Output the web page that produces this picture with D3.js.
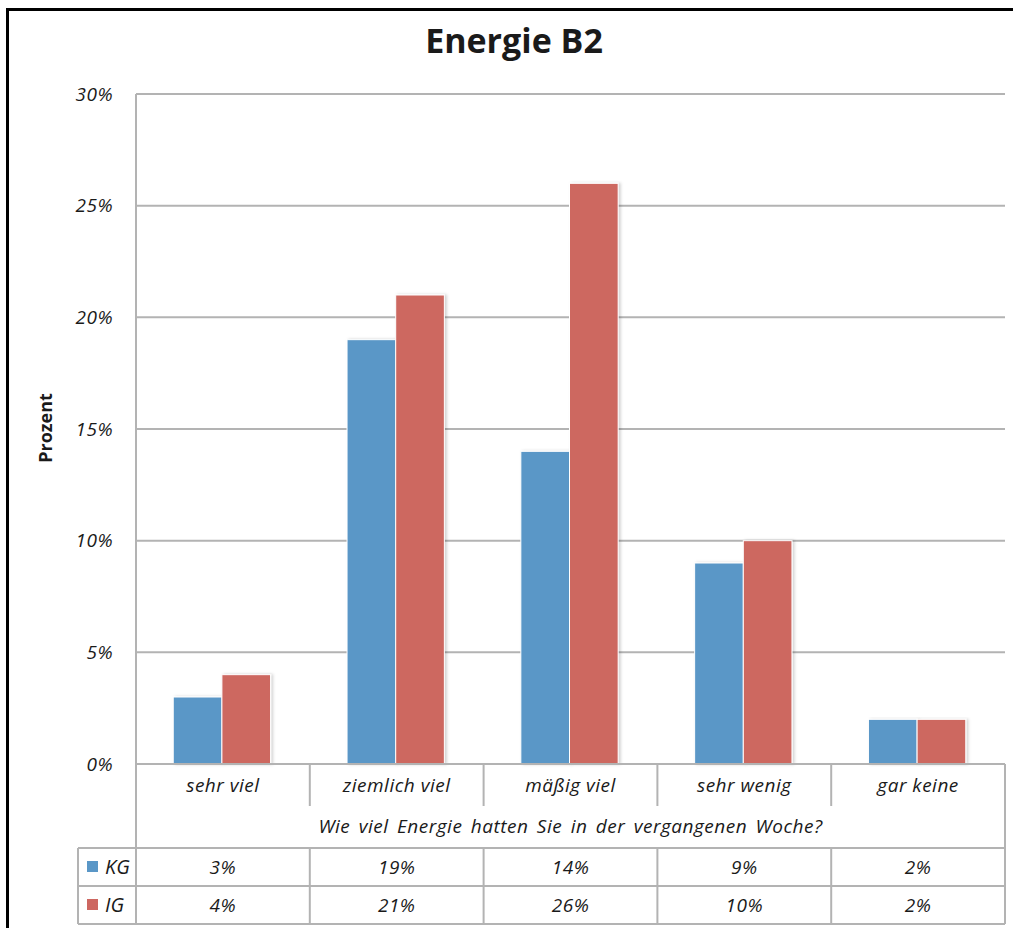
<!DOCTYPE html>
<html>
<head>
<meta charset="utf-8">
<script src="https://cdn.jsdelivr.net/npm/d3@7"></script>
<style>
  html, body { margin: 0; padding: 0; background: #fff; }
  svg { display: block; }
  text { font-family: "Open Sans", "Noto Sans", sans-serif; fill: #1a1a1a; }
</style>
</head>
<body>
<svg id="chart" width="1013" height="928"></svg>
<script>
// Answers to "Wie viel Energie hatten Sie in der vergangenen Woche?"
const categories = ["sehr viel", "ziemlich viel", "mäßig viel", "sehr wenig", "gar keine"];
const seriesNames = ["KG", "IG"];
const kgValues = [3, 19, 14, 9, 2];
const igValues = [4, 21, 26, 10, 2];
const yTicks = [0, 5, 10, 15, 20, 25, 30];
const seriesColors = ["#5a97c7", "#cd6761"];

const svg = d3.select("#chart");

// Outer frame
svg.append("rect")
  .attr("x", 7.5).attr("y", 9.5)
  .attr("width", 1020).attr("height", 940)
  .attr("fill", "none").attr("stroke", "#000").attr("stroke-width", 3);

// Title
svg.append("text")
  .attr("x", 514).attr("y", 53)
  .attr("text-anchor", "middle")
  .style("font-size", "34px").style("font-weight", 700)
  .text("Energie B2");

const plot = { left: 136, right: 1005, top: 94, bottom: 764 };
const table = { left: 78, catBottom: 806, rowTop: 848, rowMid: 886, rowBottom: 924 };

const y = d3.scaleLinear().domain([0, 30]).range([plot.bottom, plot.top]);
const x0 = d3.scaleBand().domain(categories).range([plot.left, plot.right]).padding(0);
const groupW = x0.bandwidth() * 0.56;
const x1 = d3.scaleBand().domain(seriesNames).range([0, groupW]).padding(0);

const gridColor = "#b3b3b3";
const labelSize = "19px";
const labelSpacing = "0.5px";

// Horizontal gridlines
svg.append("g").selectAll("line").data(yTicks).join("line")
  .attr("x1", plot.left).attr("x2", plot.right)
  .attr("y1", d => y(d)).attr("y2", d => y(d))
  .attr("stroke", gridColor).attr("stroke-width", 2);

// Y axis tick labels
const yAxis = d3.axisLeft(y).tickValues(yTicks).tickSize(0).tickPadding(0)
  .tickFormat(d => d + "%");
const yg = svg.append("g").attr("transform", `translate(${plot.left - 23},0)`).call(yAxis);
yg.select(".domain").remove();
yg.selectAll("text")
  .style("font-family", "'Open Sans', sans-serif")
  .style("font-size", labelSize).style("font-style", "italic")
  .style("letter-spacing", labelSpacing)
  .attr("fill", "#1a1a1a");

// Y axis title
svg.append("text")
  .attr("transform", "translate(52,428) rotate(-90)")
  .attr("text-anchor", "middle")
  .style("font-size", "18px").style("font-weight", 700)
  .text("Prozent");

// Bar shadow
const defs = svg.append("defs");
const f = defs.append("filter").attr("id", "shadow")
  .attr("x", "-20%").attr("y", "-5%").attr("width", "140%").attr("height", "110%");
f.append("feDropShadow").attr("dx", 2).attr("dy", 0).attr("stdDeviation", 1.5)
  .attr("flood-color", "#000").attr("flood-opacity", 0.18);

// Bars
const rows = categories.map((c, i) => ({ cat: c, values: [kgValues[i], igValues[i]] }));
const groups = svg.append("g").selectAll("g").data(rows).join("g")
  .attr("transform", d => `translate(${x0(d.cat) + (x0.bandwidth() - groupW) / 2 - 1},0)`);
groups.selectAll("rect")
  .data(d => d.values.map((v, j) => ({ name: seriesNames[j], v, j })))
  .join("rect")
  .attr("x", d => x1(d.name))
  .attr("width", x1.bandwidth())
  .attr("y", d => y(d.v))
  .attr("height", d => y(0) - y(d.v))
  .attr("fill", d => seriesColors[d.j])
  .attr("stroke", "#fff").attr("stroke-width", 1)
  .attr("filter", "url(#shadow)");

// Axis line at 0 drawn again above bars
svg.append("line")
  .attr("x1", plot.left).attr("x2", plot.right)
  .attr("y1", y(0)).attr("y2", y(0))
  .attr("stroke", gridColor).attr("stroke-width", 2);

// Table lines
const tg = svg.append("g").attr("stroke", gridColor).attr("stroke-width", 2);
// left vertical axis line through table
tg.append("line").attr("x1", plot.left).attr("x2", plot.left)
  .attr("y1", plot.top).attr("y2", table.rowBottom);
// right border of the table
tg.append("line").attr("x1", plot.right).attr("x2", plot.right)
  .attr("y1", plot.bottom).attr("y2", table.rowBottom);
// category separators
const inner = categories.slice(1);
tg.selectAll(".sep").data(inner).join("line").attr("class", "sep")
  .attr("x1", d => x0(d)).attr("x2", d => x0(d))
  .attr("y1", plot.bottom).attr("y2", table.catBottom);
tg.selectAll(".sep2").data(inner).join("line").attr("class", "sep2")
  .attr("x1", d => x0(d)).attr("x2", d => x0(d))
  .attr("y1", table.rowTop).attr("y2", table.rowBottom);
// data row lines
tg.selectAll(".hl").data([table.rowTop, table.rowMid, table.rowBottom]).join("line").attr("class", "hl")
  .attr("x1", table.left).attr("x2", plot.right)
  .attr("y1", d => d).attr("y2", d => d);
tg.append("line").attr("x1", table.left).attr("x2", table.left)
  .attr("y1", table.rowTop).attr("y2", table.rowBottom);

// Category labels
svg.append("g").selectAll("text").data(categories).join("text")
  .attr("x", d => x0(d) + x0.bandwidth() / 2)
  .attr("y", 792)
  .attr("text-anchor", "middle")
  .style("font-size", labelSize).style("font-style", "italic")
  .style("letter-spacing", labelSpacing)
  .text(d => d);

// X axis title
svg.append("text")
  .attr("x", (plot.left + plot.right) / 2)
  .attr("y", 833)
  .attr("text-anchor", "middle")
  .style("font-size", labelSize).style("font-style", "italic")
  .style("letter-spacing", labelSpacing)
  .style("word-spacing", "3px")
  .text("Wie viel Energie hatten Sie in der vergangenen Woche?");

// Data table rows
const tableRows = [
  { name: seriesNames[0], values: kgValues, color: seriesColors[0], top: table.rowTop },
  { name: seriesNames[1], values: igValues, color: seriesColors[1], top: table.rowMid }
];
const rowH = table.rowMid - table.rowTop;
tableRows.forEach(r => {
  const cy = r.top + rowH / 2;
  svg.append("rect")
    .attr("x", 87).attr("y", cy - 6)
    .attr("width", 11).attr("height", 11)
    .attr("fill", r.color);
  svg.append("text")
    .attr("x", 105).attr("y", cy + 7)
    .style("font-size", "20px").style("font-style", "italic")
    .text(r.name);
  svg.append("g").selectAll("text").data(r.values.map((v, i) => ({ v, c: categories[i] }))).join("text")
    .attr("x", d => x0(d.c) + x0.bandwidth() / 2)
    .attr("y", cy + 7)
    .attr("text-anchor", "middle")
    .style("font-size", labelSize).style("font-style", "italic")
    .style("letter-spacing", labelSpacing)
    .text(d => d.v + "%");
});
</script>
</body>
</html>
